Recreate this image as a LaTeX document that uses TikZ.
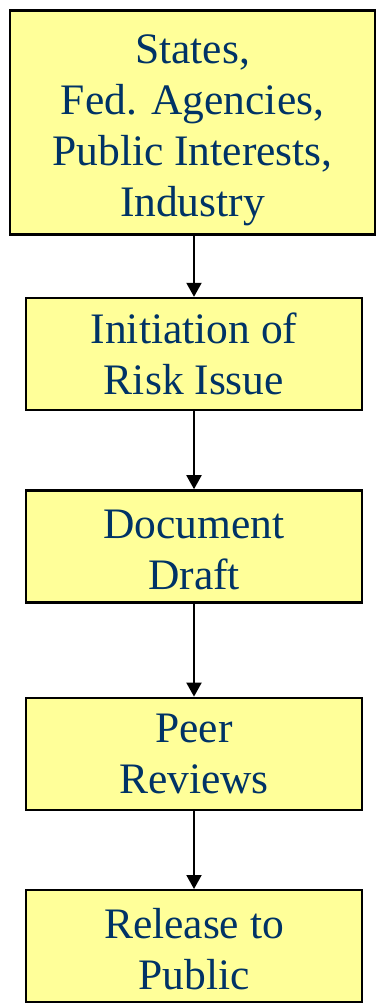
\documentclass[tikz,border=0pt]{standalone}
\usepackage{fontspec}
\setmainfont{Liberation Serif}
\usepackage{tikz}
\usetikzlibrary
  {
    arrows.meta,              % arrow heads
    positioning,              % place nodes relative to other nodes
  }

\begin{document}
\begin{tikzpicture}
    [
      x=1pt, y=1pt,
      % Styles
      stage/.style={draw, line width=2.4pt, fill=boxcolor, text=textcolor,
        align=center, inner sep=0pt, minimum width=336pt, minimum height=112pt,
        font=\fontsize{43.5}{51}\selectfont},
      flow/.style={line width=2pt, -{Triangle[width=15pt,length=14pt]}}
    ]

    % Colors
    \definecolor{boxcolor}{HTML}{FFFF99}
    \definecolor{textcolor}{HTML}{003366}

    \useasboundingbox (0,0) rectangle (376,-1004);

    \node [stage, minimum width=365pt, minimum height=224pt] (sources) at (192.5,-122.5)
      {\rule{0pt}{45pt}States,\\ Fed. Agencies,\\ Public Interests,\\ Industry};
    \node [stage] (initiation) at (194,-354) {Initiation of\\ Risk Issue};
    \node [stage, below=78pt of initiation] (draft) {\rule{0pt}{36pt}Document\\ Draft};
    \node [stage, below=93pt of draft] (review) {Peer\\ Reviews};
    \node [stage, below=78pt of review] (release) {\rule{0pt}{36pt}Release to\\ Public};

    % arrows
    \draw [flow] (sources.south -| initiation.north) -- (initiation.north);
    \draw [flow] (initiation) -- (draft);
    \draw [flow] (draft) -- (review);
    \draw [flow] (review) -- (release);
  \end{tikzpicture}
\end{document}
